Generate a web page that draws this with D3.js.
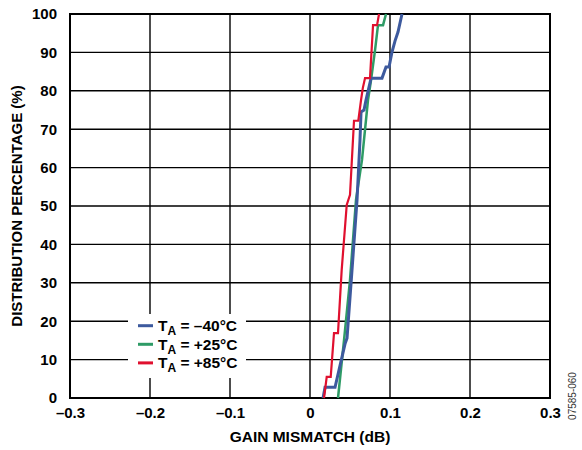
<!DOCTYPE html>
<html>
<head>
<meta charset="utf-8">
<script src="https://cdn.jsdelivr.net/npm/d3@7"></script>
<style>
  html, body { margin: 0; padding: 0; background: #fff; }
  svg text { font-family: "Liberation Sans", Arial, Helvetica, sans-serif; }
</style>
</head>
<body>
<svg id="chart" width="582" height="450"></svg>
<script>
// ---- data ----
const xTicks = [-0.3, -0.2, -0.1, 0, 0.1, 0.2, 0.3];
const yTicks = [0, 10, 20, 30, 40, 50, 60, 70, 80, 90, 100];
const seriesLabels = ["\u201340\u00B0C", "+25\u00B0C", "+85\u00B0C"];
const seriesColors = ["#3D5A9E", "#2E9B66", "#E0102F"];

// gain mismatch (dB), distribution (%)
const blueX = [0.0163, 0.0188, 0.0313, 0.0388, 0.0438, 0.0463, 0.0525, 0.0588, 0.0625, 0.0638, 0.0675, 0.0700, 0.0763, 0.0900, 0.0950, 0.0988, 0.1025, 0.1063, 0.1100, 0.1150];
const blueY = [0, 2.8, 2.8, 9.6, 14.1, 15.6, 33.3, 51.6, 67.2, 74.5, 75.0, 77.6, 83.3, 83.3, 86.2, 86.2, 90.1, 93.0, 95.3, 100];

const greenX = [0.0350, 0.0425, 0.0500, 0.0575, 0.0650, 0.0675, 0.0725, 0.0763, 0.0813, 0.0850, 0.0913, 0.0950];
const greenY = [0, 15.0, 30.7, 51.6, 62.0, 67.2, 77.6, 82.8, 90.6, 97.1, 97.1, 100];

const redX = [0.0175, 0.0209, 0.0259, 0.0300, 0.0350, 0.0396, 0.0459, 0.0500, 0.0550, 0.0604, 0.0638, 0.0660, 0.0688, 0.0750, 0.0788, 0.0838, 0.0863];
const redY = [0, 5.5, 5.5, 16.9, 16.9, 33.3, 50.3, 52.9, 72.2, 72.2, 77.6, 80.7, 83.3, 83.3, 97.1, 97.1, 100];

// ---- layout ----
const svg = d3.select("#chart");
const pL = 70, pR = 550, pT = 14, pB = 398;
const x = d3.scaleLinear().domain([-0.3, 0.3]).range([pL, pR]);
const y = d3.scaleLinear().domain([0, 100]).range([pB, pT]);

const fmtX = d => Math.abs(d) < 1e-9 ? "0" : (d < 0 ? "\u2013" + Math.abs(d).toFixed(1) : d.toFixed(1));

// grid
const grid = svg.append("g");
grid.selectAll("line.v").data(xTicks).enter().append("line")
  .attr("x1", d => x(d)).attr("x2", d => x(d))
  .attr("y1", pT).attr("y2", pB)
  .attr("stroke", "#000").attr("stroke-width", 1.4);
grid.selectAll("line.h").data(yTicks).enter().append("line")
  .attr("x1", pL).attr("x2", pR)
  .attr("y1", d => y(d)).attr("y2", d => y(d))
  .attr("stroke", "#000").attr("stroke-width", 1.4);

// axes (labels only)
const xAxis = svg.append("g").attr("transform", `translate(0,${pB})`)
  .call(d3.axisBottom(x).tickValues(xTicks).tickFormat(fmtX).tickSize(0).tickPadding(9));
xAxis.select(".domain").remove();
xAxis.selectAll("text").attr("font-size", 15).attr("font-weight", "bold").attr("fill", "#000")
  .style("font-family", "'Liberation Sans', Arial, sans-serif");

const yAxis = svg.append("g").attr("transform", `translate(${pL},0)`)
  .call(d3.axisLeft(y).tickValues(yTicks).tickFormat(d3.format("d")).tickSize(0).tickPadding(13));
yAxis.select(".domain").remove();
yAxis.selectAll("text").attr("font-size", 15).attr("font-weight", "bold").attr("fill", "#000")
  .style("font-family", "'Liberation Sans', Arial, sans-serif");

// frame
svg.append("rect").attr("x", pL).attr("y", pT).attr("width", pR - pL).attr("height", pB - pT)
  .attr("fill", "none").attr("stroke", "#000").attr("stroke-width", 2);

// legend background
const lg = svg.append("g");
lg.append("rect").attr("x", 128).attr("y", 314).attr("width", 118).attr("height", 64).attr("fill", "#fff");

// series
const line = d3.line().x(d => x(d[0])).y(d => y(d[1]));
const series = [
  { xs: greenX, ys: greenY, c: seriesColors[1], w: 2.5 },
  { xs: blueX, ys: blueY, c: seriesColors[0], w: 3.0 },
  { xs: redX, ys: redY, c: seriesColors[2], w: 2.2 }
];
series.forEach(s => {
  const pts = s.xs.map((v, i) => [v, s.ys[i]]);
  svg.append("path").datum(pts).attr("d", line)
    .attr("fill", "none").attr("stroke", s.c).attr("stroke-width", s.w)
    .attr("stroke-linejoin", "miter");
});

// legend entries
seriesLabels.forEach((lab, i) => {
  const yy = 325.7 + i * 18.6;
  lg.append("line").attr("x1", 138).attr("x2", 153).attr("y1", yy).attr("y2", yy)
    .attr("stroke", seriesColors[i]).attr("stroke-width", 3);
  const t = lg.append("text").attr("x", 158).attr("y", yy + 5.5)
    .attr("font-size", 15.5).attr("font-weight", "bold").attr("fill", "#000");
  t.append("tspan").text("T");
  t.append("tspan").attr("font-size", 12).attr("dy", 4).text("A");
  t.append("tspan").attr("dy", -4).text(" = " + lab);
});

// axis titles
svg.append("text").attr("x", (pL + pR) / 2).attr("y", 442)
  .attr("text-anchor", "middle").attr("font-size", 15.5).attr("font-weight", "bold")
  .text("GAIN MISMATCH (dB)");
svg.append("text").attr("transform", `translate(22,${(pT + pB) / 2}) rotate(-90)`)
  .attr("text-anchor", "middle").attr("font-size", 15).attr("font-weight", "bold")
  .text("DISTRIBUTION PERCENTAGE (%)");
svg.append("text").attr("transform", `translate(576,396) rotate(-90)`)
  .attr("text-anchor", "middle").attr("font-size", 10).attr("fill", "#333")
  .text("07585-060");
</script>
</body>
</html>
